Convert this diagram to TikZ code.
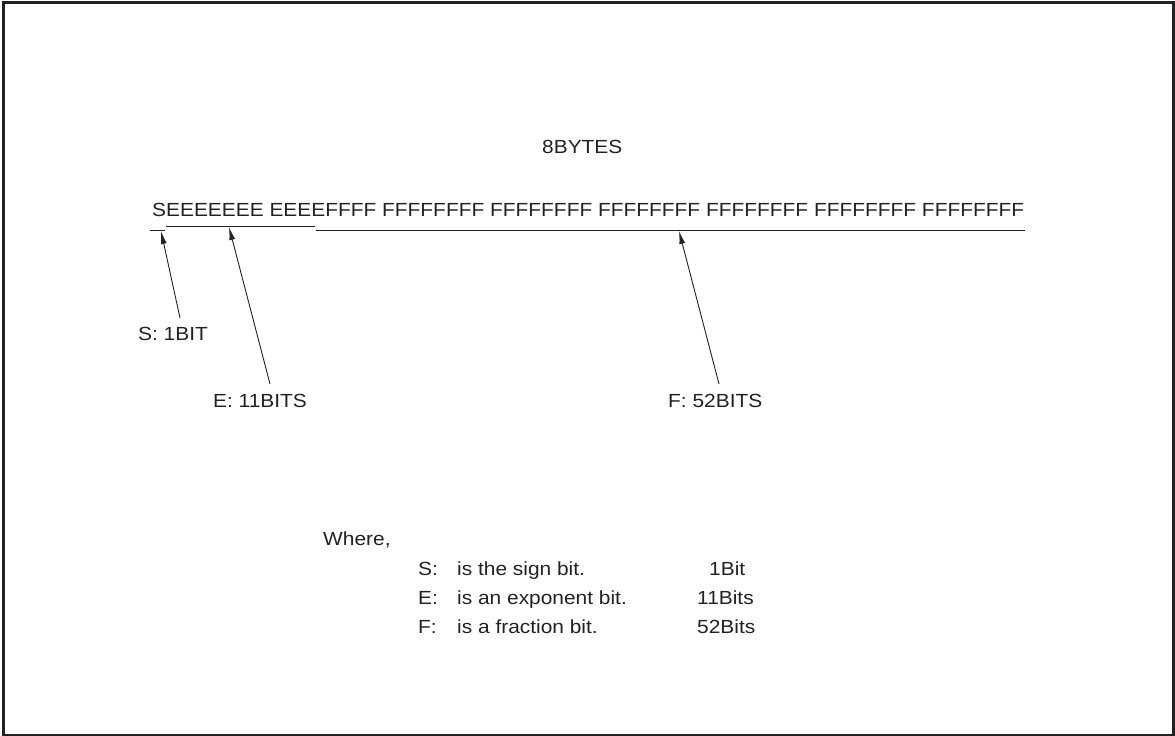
\documentclass[tikz,border=0pt]{standalone}
\usepackage{fontspec}
\setmainfont{Liberation Sans}[FakeStretch=1.1]
\usetikzlibrary{arrows.meta}
\definecolor{ink}{HTML}{222222}
\begin{document}
\begin{tikzpicture}[x=1pt,y=-1pt,
  txt/.style={inner sep=0pt,anchor=base west,text=ink,font=\fontsize{19}{23}\selectfont},
  ptr/.style={draw=ink,line width=0.9pt,-{Latex[length=13pt,width=6pt]}},
  seg/.style={draw=ink,line width=1pt}]
\useasboundingbox (0,0) rectangle (1175,736);
\draw[ink,line width=2.5pt] (3.5,2.5) rectangle (1173.5,735.5);
% title
\node[txt] (bytes) at (542,153) {8BYTES};
% bit string
\node[txt] (bits) at (152,216) {SEEEEEEE EEEEFFFF FFFFFFFF FFFFFFFF FFFFFFFF FFFFFFFF FFFFFFFF FFFFFFFF};
% underline segments
\draw[seg] (150,230) -- (165,230);
\draw[seg] (166,226) -- (315,226);
\draw[seg] (316,230) -- (1025,230);
% labels
\node[txt] (sl) at (138,340) {S: 1BIT};
\node[txt] (el) at (213,407) {E: 11BITS};
\node[txt] (fl) at (668,407) {F: 52BITS};
% arrow points
\coordinate (stip) at (161,231);
\coordinate (etip) at (229,227);
\coordinate (ftip) at (679,231);
\coordinate (stail) at (180,318);
\coordinate (etail) at (270,384);
\coordinate (ftail) at (719,384);
\draw[ptr] (stail) -- (stip);
\draw[ptr] (etail) -- (etip);
\draw[ptr] (ftail) -- (ftip);
% legend
\node[txt] (where) at (323,545) {Where,};
\node[txt] (ls) at (418,575) {S:};
\node[txt] (ts) at (457,575) {is the sign bit.};
\node[txt] (vs) at (709,575) {1Bit};
\node[txt] (le) at (418,604) {E:};
\node[txt] (te) at (457,604) {is an exponent bit.};
\node[txt] (ve) at (697,604) {11Bits};
\node[txt] (lf) at (418,633) {F:};
\node[txt] (tf) at (457,633) {is a fraction bit.};
\node[txt] (vf) at (697,633) {52Bits};
\end{tikzpicture}
\end{document}
